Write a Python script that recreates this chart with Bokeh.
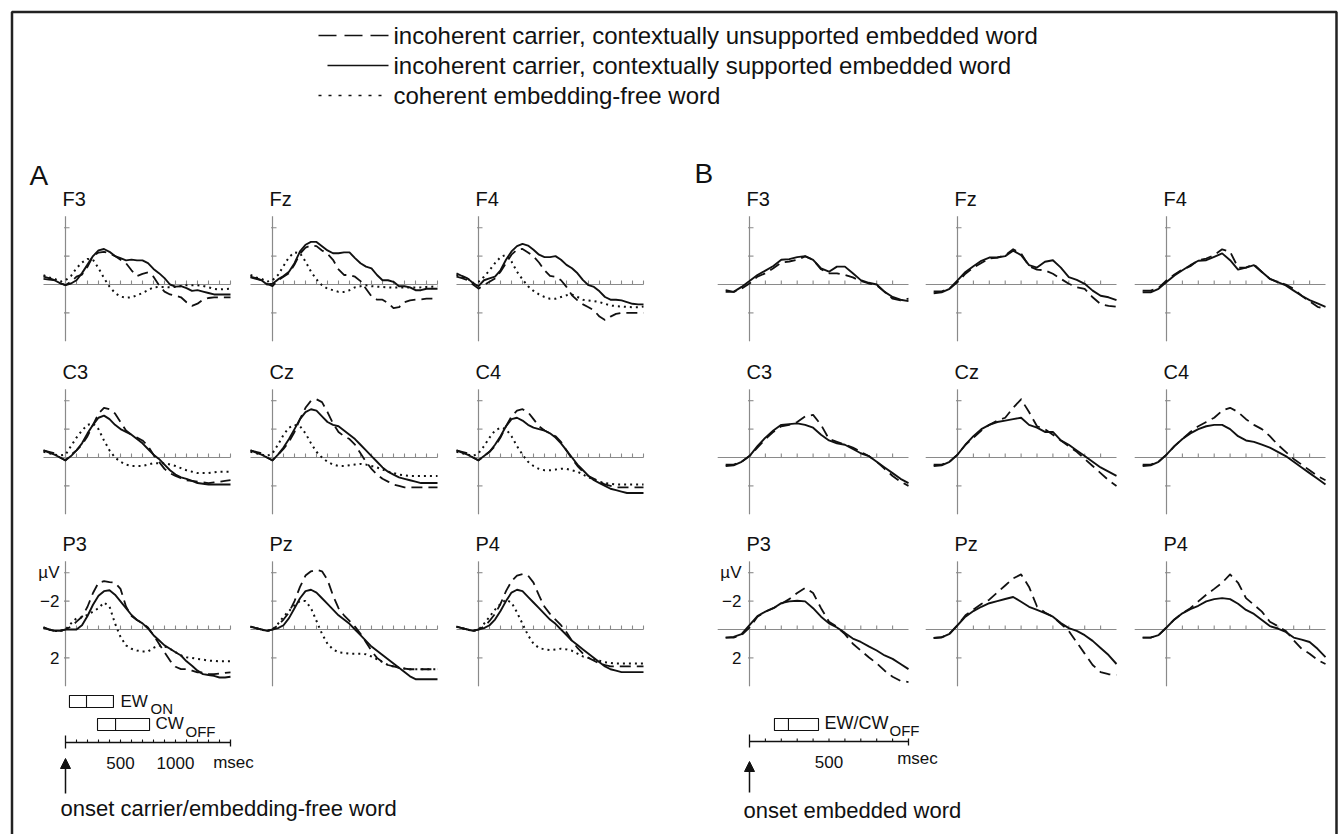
from bokeh.plotting import figure
from bokeh.models import Range1d, Arrow, NormalHead
from bokeh.core.properties import value
from bokeh.embed import file_html
from bokeh.resources import INLINE

# ---------------- data ----------------
electrodes = [["F3", "Fz", "F4"], ["C3", "Cz", "C4"], ["P3", "Pz", "P4"]]

time_A = [-200, -150, -100, -50, 0, 50, 100, 150, 200, 250, 300, 350, 400, 450, 500, 550, 600,
          650, 700, 750, 800, 850, 900, 950, 1000, 1050, 1100, 1150, 1200, 1250, 1300, 1350,
          1400, 1450, 1500]
time_B = [-150, -100, -50, 0, 50, 100, 150, 200, 250, 300, 350, 400, 450, 500, 550, 600, 650,
          700, 750, 800, 850, 900, 950, 1000]

# Panel A (µV, negative up)
A_F3_unsupported = [-0.4, -0.35, -0.3, -0.1, 0.05, -0.2, -0.55, -0.7, -1.25, -2.0, -2.25, -2.3, -2.2, -2.0, -1.75, -1.5, -1.0, -0.6, -0.75, -0.85, -0.55, 0.05, 0.5, 0.7, 0.8, 0.9, 1.25, 1.5, 1.35, 1.07, 0.95, 0.9, 0.9, 0.9, 0.9]
A_F3_supported = [-0.55, -0.45, -0.3, -0.1, 0.05, -0.07, -0.3, -0.8, -1.4, -2.0, -2.4, -2.5, -2.3, -2.0, -1.85, -1.7, -1.75, -1.7, -1.7, -1.5, -1.1, -0.8, -0.45, 0.0, 0.15, 0.12, 0.25, 0.45, 0.4, 0.5, 0.6, 0.7, 0.7, 0.7, 0.7]
A_F3_coherent = [-0.65, -0.5, -0.4, -0.2, -0.3, -0.6, -1.15, -1.55, -1.8, -1.75, -1.15, -0.45, 0.15, 0.6, 0.85, 0.93, 0.9, 0.76, 0.6, 0.4, 0.2, 0.17, 0.17, 0.2, 0.17, 0.1, 0.05, 0.05, 0.05, 0.1, 0.2, 0.3, 0.35, 0.32, 0.3]

A_Fz_unsupported = [-0.5, -0.4, -0.3, -0.05, 0.12, -0.3, -0.55, -0.8, -1.4, -2.17, -2.6, -2.75, -2.7, -2.4, -2.17, -1.74, -1.07, -0.67, -0.67, -0.55, -0.24, 0.3, 0.83, 1.07, 1.07, 1.3, 1.67, 1.6, 1.24, 1.12, 1.07, 1.05, 1.0, 1.0, 1.0]
A_Fz_supported = [-0.55, -0.45, -0.3, 0.0, -0.05, -0.36, -0.6, -0.9, -1.5, -2.33, -2.8, -3.0, -3.0, -2.7, -2.4, -2.2, -2.2, -2.26, -2.26, -1.86, -1.5, -1.26, -1.14, -0.67, -0.3, -0.3, -0.19, 0.12, 0.12, 0.2, 0.4, 0.4, 0.3, 0.3, 0.3]
A_Fz_coherent = [-0.67, -0.5, -0.4, -0.2, -0.3, -0.67, -1.3, -1.93, -2.26, -2.2, -1.62, -0.9, -0.36, 0.05, 0.3, 0.4, 0.52, 0.52, 0.4, 0.2, 0.12, 0.05, 0.12, 0.15, 0.17, 0.2, 0.22, 0.22, 0.22, 0.22, 0.22, 0.2, 0.17, 0.15, 0.12]

A_F4_unsupported = [-0.55, -0.45, -0.3, 0.0, 0.29, 0.05, -0.19, -0.43, -0.9, -1.5, -2.1, -2.45, -2.5, -2.26, -1.98, -1.55, -1.0, -0.6, -0.55, -0.3, 0.17, 0.76, 1.12, 1.4, 1.6, 1.83, 2.26, 2.5, 2.26, 2.07, 2.0, 2.0, 2.0, 2.0, 2.0]
A_F4_supported = [-0.79, -0.6, -0.43, -0.1, 0.12, -0.3, -0.43, -0.55, -1.0, -1.74, -2.33, -2.7, -2.86, -2.74, -2.45, -2.1, -1.93, -1.93, -2.0, -1.74, -1.38, -1.14, -0.79, -0.31, 0.05, 0.17, 0.48, 0.88, 1.07, 1.07, 1.12, 1.24, 1.36, 1.4, 1.4]
A_F4_coherent = [-0.67, -0.55, -0.43, -0.1, -0.19, -0.55, -1.0, -1.5, -1.93, -2.1, -1.62, -0.9, -0.36, 0.12, 0.45, 0.7, 0.88, 1.0, 1.0, 0.88, 0.76, 0.71, 0.88, 1.07, 1.12, 1.17, 1.24, 1.36, 1.48, 1.52, 1.55, 1.58, 1.6, 1.6, 1.55]

A_C3_unsupported = [-0.5, -0.4, -0.3, 0.0, 0.2, -0.2, -0.5, -0.9, -1.5, -2.3, -3.1, -3.5, -3.4, -3.1, -2.5, -1.9, -1.6, -1.4, -1.2, -0.8, -0.2, 0.3, 0.8, 1.1, 1.3, 1.45, 1.6, 1.65, 1.7, 1.75, 1.8, 1.75, 1.7, 1.65, 1.6]
A_C3_supported = [-0.5, -0.35, -0.2, 0.0, 0.2, -0.1, -0.5, -1.0, -1.7, -2.3, -2.8, -2.95, -2.7, -2.3, -2.0, -1.8, -1.6, -1.3, -1.0, -0.6, -0.2, 0.1, 0.5, 0.9, 1.2, 1.4, 1.5, 1.65, 1.8, 1.85, 1.9, 1.9, 1.9, 1.9, 1.9]
A_C3_coherent = [-0.4, -0.3, -0.2, -0.15, -0.2, -0.8, -1.4, -1.9, -2.3, -2.4, -2.0, -1.2, -0.5, 0.0, 0.3, 0.5, 0.6, 0.6, 0.6, 0.5, 0.4, 0.4, 0.4, 0.5, 0.6, 0.75, 0.9, 1.0, 1.1, 1.1, 1.1, 1.05, 1.0, 1.0, 1.0]

A_Cz_unsupported = [-0.5, -0.4, -0.3, 0.0, 0.2, -0.2, -0.6, -1.1, -1.8, -2.7, -3.5, -4.0, -4.1, -3.9, -3.2, -2.4, -1.8, -1.5, -1.3, -0.9, -0.3, 0.3, 0.8, 1.2, 1.5, 1.7, 1.9, 2.0, 2.1, 2.1, 2.1, 2.1, 2.1, 2.1, 2.1]
A_Cz_supported = [-0.5, -0.35, -0.2, 0.0, 0.2, -0.2, -0.7, -1.3, -2.0, -2.7, -3.2, -3.4, -3.3, -2.9, -2.5, -2.3, -2.2, -1.9, -1.6, -1.3, -0.9, -0.5, -0.1, 0.3, 0.7, 1.0, 1.2, 1.4, 1.5, 1.6, 1.7, 1.8, 1.8, 1.8, 1.8]
A_Cz_coherent = [-0.4, -0.3, -0.2, -0.1, -0.3, -0.9, -1.6, -2.1, -2.3, -2.2, -1.7, -1.0, -0.4, 0.0, 0.3, 0.5, 0.6, 0.6, 0.55, 0.5, 0.45, 0.5, 0.6, 0.7, 0.85, 1.0, 1.1, 1.2, 1.25, 1.3, 1.3, 1.3, 1.3, 1.3, 1.3]

A_C4_unsupported = [-0.5, -0.4, -0.3, 0.0, 0.2, -0.1, -0.4, -0.8, -1.4, -2.2, -2.9, -3.3, -3.4, -3.2, -2.7, -2.2, -1.9, -1.7, -1.5, -1.1, -0.5, 0.1, 0.6, 1.0, 1.3, 1.5, 1.7, 1.9, 2.0, 2.1, 2.1, 2.1, 2.1, 2.1, 2.1]
A_C4_supported = [-0.5, -0.35, -0.2, 0.0, 0.2, -0.1, -0.4, -0.9, -1.5, -2.2, -2.7, -2.8, -2.6, -2.3, -2.1, -2.0, -1.9, -1.7, -1.4, -1.0, -0.5, 0.0, 0.5, 0.9, 1.3, 1.6, 1.8, 2.0, 2.2, 2.3, 2.4, 2.5, 2.5, 2.5, 2.5]
A_C4_coherent = [-0.4, -0.3, -0.2, -0.1, -0.3, -0.8, -1.4, -1.9, -2.1, -2.0, -1.5, -0.8, -0.2, 0.3, 0.6, 0.8, 0.9, 0.9, 0.85, 0.8, 0.8, 0.9, 1.0, 1.2, 1.4, 1.55, 1.7, 1.8, 1.85, 1.9, 1.9, 1.9, 1.9, 1.9, 1.9]

A_P3_unsupported = [-0.14, 0.0, 0.1, 0.1, 0.0, -0.2, -0.55, -0.9, -1.6, -2.57, -3.3, -3.4, -3.33, -3.3, -2.86, -1.62, -0.95, -0.67, -0.43, -0.14, 0.4, 1.0, 1.6, 2.19, 2.62, 2.79, 2.79, 2.9, 3.02, 3.02, 3.14, 3.14, 3.1, 3.05, 3.02]
A_P3_supported = [-0.14, 0.0, 0.1, 0.1, 0.0, 0.0, 0.0, -0.3, -0.95, -1.74, -2.38, -2.7, -2.76, -2.45, -1.98, -1.5, -1.02, -0.67, -0.43, -0.07, 0.4, 0.76, 1.12, 1.36, 1.6, 1.83, 2.24, 2.55, 2.9, 3.14, 3.2, 3.26, 3.38, 3.38, 3.33]
A_P3_coherent = [-0.14, 0.0, 0.1, 0.1, 0.0, -0.43, -0.79, -0.86, -1.02, -1.26, -1.5, -1.9, -1.62, -0.43, 0.52, 1.12, 1.36, 1.48, 1.55, 1.55, 1.29, 1.12, 1.19, 1.36, 1.6, 1.83, 1.95, 2.0, 2.07, 2.12, 2.19, 2.2, 2.24, 2.24, 2.24]

A_Pz_unsupported = [-0.2, -0.1, 0.0, 0.1, 0.0, -0.3, -0.7, -1.2, -2.0, -3.0, -3.8, -4.1, -4.2, -4.1, -3.5, -2.4, -1.5, -1.0, -0.6, -0.2, 0.3, 0.9, 1.5, 2.0, 2.3, 2.5, 2.6, 2.7, 2.75, 2.8, 2.8, 2.8, 2.8, 2.8, 2.8]
A_Pz_supported = [-0.2, -0.1, 0.0, 0.1, 0.0, -0.1, -0.3, -0.8, -1.5, -2.2, -2.7, -2.8, -2.6, -2.2, -1.8, -1.4, -1.0, -0.7, -0.4, 0.0, 0.4, 0.8, 1.2, 1.5, 1.8, 2.1, 2.4, 2.7, 3.0, 3.3, 3.5, 3.5, 3.5, 3.5, 3.5]
A_Pz_coherent = [-0.2, -0.1, 0.0, 0.1, 0.0, -0.4, -0.9, -1.3, -1.7, -2.0, -2.0, -1.5, -0.6, 0.3, 1.0, 1.4, 1.6, 1.65, 1.7, 1.7, 1.7, 1.75, 1.9, 2.1, 2.3, 2.5, 2.6, 2.7, 2.75, 2.8, 2.8, 2.8, 2.8, 2.8, 2.8]

A_P4_unsupported = [-0.2, -0.1, 0.0, 0.1, 0.0, -0.2, -0.6, -1.1, -1.8, -2.7, -3.4, -3.8, -3.9, -3.8, -3.3, -2.4, -1.6, -1.1, -0.7, -0.3, 0.2, 0.8, 1.3, 1.7, 2.0, 2.2, 2.4, 2.5, 2.6, 2.6, 2.6, 2.6, 2.6, 2.6, 2.6]
A_P4_supported = [-0.2, -0.1, 0.0, 0.1, 0.0, -0.1, -0.3, -0.7, -1.3, -2.0, -2.6, -2.8, -2.7, -2.3, -1.9, -1.5, -1.1, -0.7, -0.4, 0.0, 0.4, 0.8, 1.1, 1.4, 1.7, 2.0, 2.3, 2.6, 2.8, 2.9, 3.0, 3.0, 3.0, 3.0, 3.0]
A_P4_coherent = [-0.2, -0.1, 0.0, 0.1, 0.0, -0.4, -0.9, -1.4, -1.8, -2.1, -1.9, -1.2, -0.4, 0.4, 1.0, 1.3, 1.4, 1.45, 1.4, 1.35, 1.4, 1.5, 1.7, 1.9, 2.0, 2.1, 2.2, 2.3, 2.35, 2.4, 2.4, 2.4, 2.4, 2.4, 2.4]

# Panel B
B_F3_unsupported = [0.4, 0.52, 0.29, -0.07, -0.55, -0.79, -1.14, -1.55, -1.62, -1.74, -1.98, -1.74, -1.07, -0.79, -0.79, -0.67, -0.5, -0.24, -0.07, 0.05, 0.52, 1.0, 1.12, 1.0]
B_F3_supported = [0.52, 0.52, 0.17, -0.24, -0.67, -0.98, -1.3, -1.74, -1.79, -1.93, -2.0, -1.74, -1.14, -0.9, -1.26, -1.26, -0.79, -0.31, -0.12, 0.0, 0.52, 0.88, 1.07, 1.17]
B_Fz_unsupported = [0.48, 0.48, 0.3, -0.17, -0.76, -1.19, -1.52, -1.83, -1.9, -2.07, -2.48, -2.19, -1.29, -1.05, -1.0, -0.76, -0.4, -0.05, 0.19, 0.31, 0.9, 1.38, 1.5, 1.57]
B_Fz_supported = [0.62, 0.55, 0.3, -0.29, -0.88, -1.29, -1.67, -1.9, -1.9, -2.0, -2.38, -2.07, -1.36, -1.19, -1.6, -1.71, -1.19, -0.52, -0.33, -0.05, 0.43, 0.79, 0.9, 1.1]
B_F4_unsupported = [0.43, 0.43, 0.24, -0.29, -0.71, -1.05, -1.29, -1.71, -1.83, -2.07, -2.48, -2.31, -1.19, -1.19, -1.43, -0.88, -0.4, -0.17, 0.0, 0.31, 0.79, 1.19, 1.57, 1.74]
B_F4_supported = [0.55, 0.55, 0.3, -0.17, -0.64, -1.0, -1.36, -1.67, -1.71, -1.95, -2.19, -1.71, -1.05, -1.19, -1.36, -0.88, -0.4, -0.17, 0.07, 0.43, 0.79, 1.1, 1.33, 1.57]

B_C3_unsupported = [0.5, 0.5, 0.3, -0.1, -0.7, -1.3, -1.8, -2.2, -2.3, -2.5, -2.9, -3.0, -2.3, -1.3, -1.1, -0.9, -0.7, -0.4, -0.1, 0.3, 0.8, 1.3, 1.7, 2.0]
B_C3_supported = [0.6, 0.55, 0.3, -0.1, -0.8, -1.4, -1.9, -2.3, -2.35, -2.4, -2.3, -2.1, -1.6, -1.2, -1.0, -0.9, -0.6, -0.3, -0.1, 0.3, 0.7, 1.1, 1.5, 1.8]
B_Cz_unsupported = [0.5, 0.5, 0.3, -0.2, -0.9, -1.4, -1.9, -2.3, -2.6, -2.8, -3.5, -4.1, -3.2, -2.2, -2.0, -1.6, -1.2, -0.8, -0.4, 0.1, 0.6, 1.1, 1.6, 2.0]
B_Cz_supported = [0.6, 0.55, 0.3, -0.2, -0.9, -1.5, -2.0, -2.3, -2.5, -2.6, -2.7, -2.8, -2.3, -2.1, -1.8, -1.8, -1.2, -0.9, -0.5, -0.1, 0.3, 0.7, 1.0, 1.3]
B_C4_unsupported = [0.5, 0.5, 0.3, -0.2, -0.8, -1.3, -1.8, -2.2, -2.5, -2.8, -3.3, -3.5, -3.2, -2.7, -2.3, -2.0, -1.5, -0.9, -0.4, 0.1, 0.5, 0.9, 1.3, 1.6]
B_C4_supported = [0.6, 0.55, 0.3, -0.2, -0.8, -1.3, -1.7, -2.0, -2.2, -2.3, -2.3, -2.0, -1.5, -1.2, -1.1, -0.9, -0.7, -0.4, -0.1, 0.3, 0.7, 1.1, 1.5, 1.9]

B_P3_unsupported = [0.57, 0.57, 0.4, -0.14, -0.9, -1.26, -1.5, -1.81, -2.14, -2.57, -2.93, -2.57, -1.5, -0.55, -0.19, 0.33, 1.0, 1.48, 1.95, 2.38, 2.9, 3.33, 3.62, 3.7]
B_P3_supported = [0.57, 0.52, 0.33, -0.31, -0.95, -1.26, -1.5, -1.86, -1.98, -2.02, -1.98, -1.5, -0.9, -0.43, -0.14, 0.24, 0.64, 0.88, 1.19, 1.48, 1.83, 2.07, 2.43, 2.79]
B_Pz_unsupported = [0.6, 0.55, 0.3, -0.3, -1.0, -1.4, -1.8, -2.1, -2.6, -3.1, -3.6, -3.88, -3.0, -1.62, -1.2, -0.9, -0.4, 0.1, 0.9, 1.7, 2.5, 3.0, 3.15, 3.19]
B_Pz_supported = [0.6, 0.55, 0.3, -0.3, -0.9, -1.3, -1.6, -1.85, -2.0, -2.15, -2.29, -1.95, -1.6, -1.38, -1.15, -0.9, -0.45, -0.1, 0.1, 0.4, 0.8, 1.3, 1.8, 2.43]
B_P4_unsupported = [0.57, 0.57, 0.4, -0.14, -0.71, -1.14, -1.5, -1.98, -2.45, -2.86, -3.29, -3.88, -3.29, -2.21, -1.74, -1.26, -0.55, -0.24, 0.1, 0.76, 1.36, 1.71, 2.14, 2.43]
B_P4_supported = [0.57, 0.57, 0.4, -0.14, -0.71, -1.14, -1.43, -1.67, -1.98, -2.14, -2.21, -2.14, -1.81, -1.38, -1.1, -0.67, -0.24, -0.07, 0.17, 0.57, 0.71, 0.88, 1.36, 1.95]

# time windows (ms) for the boxes below the plots: [start, mid, end]
EW_on_window_A = [36, 191, 436]
CW_off_window_A = [291, 455, 764]
EWCW_off_window_B = [157, 245, 434]

y_ticks = [-4, -2, 2]
y_tick_labels = ["µV", "\u22122", "2"]

legend_labels = ["incoherent carrier, contextually unsupported embedded word",
                 "incoherent carrier, contextually supported embedded word",
                 "coherent embedding-free word"]

A_curves = {
    ("F3", "unsupported"): A_F3_unsupported, ("F3", "supported"): A_F3_supported, ("F3", "coherent"): A_F3_coherent,
    ("Fz", "unsupported"): A_Fz_unsupported, ("Fz", "supported"): A_Fz_supported, ("Fz", "coherent"): A_Fz_coherent,
    ("F4", "unsupported"): A_F4_unsupported, ("F4", "supported"): A_F4_supported, ("F4", "coherent"): A_F4_coherent,
    ("C3", "unsupported"): A_C3_unsupported, ("C3", "supported"): A_C3_supported, ("C3", "coherent"): A_C3_coherent,
    ("Cz", "unsupported"): A_Cz_unsupported, ("Cz", "supported"): A_Cz_supported, ("Cz", "coherent"): A_Cz_coherent,
    ("C4", "unsupported"): A_C4_unsupported, ("C4", "supported"): A_C4_supported, ("C4", "coherent"): A_C4_coherent,
    ("P3", "unsupported"): A_P3_unsupported, ("P3", "supported"): A_P3_supported, ("P3", "coherent"): A_P3_coherent,
    ("Pz", "unsupported"): A_Pz_unsupported, ("Pz", "supported"): A_Pz_supported, ("Pz", "coherent"): A_Pz_coherent,
    ("P4", "unsupported"): A_P4_unsupported, ("P4", "supported"): A_P4_supported, ("P4", "coherent"): A_P4_coherent,
}
B_curves = {
    ("F3", "unsupported"): B_F3_unsupported, ("F3", "supported"): B_F3_supported,
    ("Fz", "unsupported"): B_Fz_unsupported, ("Fz", "supported"): B_Fz_supported,
    ("F4", "unsupported"): B_F4_unsupported, ("F4", "supported"): B_F4_supported,
    ("C3", "unsupported"): B_C3_unsupported, ("C3", "supported"): B_C3_supported,
    ("Cz", "unsupported"): B_Cz_unsupported, ("Cz", "supported"): B_Cz_supported,
    ("C4", "unsupported"): B_C4_unsupported, ("C4", "supported"): B_C4_supported,
    ("P3", "unsupported"): B_P3_unsupported, ("P3", "supported"): B_P3_supported,
    ("Pz", "unsupported"): B_Pz_unsupported, ("Pz", "supported"): B_Pz_supported,
    ("P4", "unsupported"): B_P4_unsupported, ("P4", "supported"): B_P4_supported,
}

# ---------------- layout / style ----------------
W, H = 1338, 834
PX, PY = 0, 0
FONT = value("Liberation Sans")
INK = "#111111"
AXC = "#8a8a8a"

SX = {"A": 0.11, "B": 0.159}          # px per ms
SY = 14.2                              # px per µV
COLS = {"A": [65, 272, 478], "B": [749, 957, 1166]}
ROWS = [284, 457, 629]
XEND = {"A": 1500, "B": 1000}
XTICKS = {"A": list(range(100, 1501, 100)), "B": list(range(100, 901, 100))}

STYLE = {
    "unsupported": dict(line_dash="11 6", line_width=1.8),
    "supported": dict(line_dash="solid", line_width=1.9),
    "coherent": dict(line_dash="2 4", line_width=2.0),
}

p = figure(width=W, height=H, x_range=Range1d(PX, PX + W), y_range=Range1d(PY + H, PY),
           x_axis_type=None, y_axis_type=None, toolbar_location=None, output_backend="svg",
           min_border=0, outline_line_color=None, background_fill_color="white")

xr = {}
for panel in "AB":
    for c, X0 in enumerate(COLS[panel]):
        xr[f"{panel}{c}"] = Range1d((PX - X0) / SX[panel], (PX + W - X0) / SX[panel])
yr = {}
for r, Y0 in enumerate(ROWS):
    yr[f"r{r}"] = Range1d((PY + H - Y0) / SY, (PY - Y0) / SY)
p.extra_x_ranges = xr
p.extra_y_ranges = yr

# outer frame
p.line(x=[11.5, 11.5, 1336, 1336], y=[PY + H, 11.5, 11.5, PY + H], line_color="#222222", line_width=2.5)


def txt(x, y, s, size, align="left", **kw):
    p.text(x=[x], y=[y], text=[s], text_font=FONT, text_font_size=f"{size}px",
           text_baseline="middle", text_align=align, text_color=INK, **kw)


# legend
leg_y = [35, 65, 95]
p.line(x=[318, 388], y=[leg_y[0]] * 2, line_color=INK, line_width=1.6, line_dash="18 8")
p.line(x=[327, 388], y=[leg_y[1]] * 2, line_color=INK, line_width=1.6)
p.line(x=[318, 385], y=[leg_y[2]] * 2, line_color=INK, line_width=1.6, line_dash="3 7")
for yy, lab in zip(leg_y, legend_labels):
    txt(393, yy, lab, 24)

txt(29, 175, "A", 28)
txt(694, 173, "B", 28)

# subplots
for panel, curves, conds in (("A", A_curves, ["coherent", "unsupported", "supported"]),
                             ("B", B_curves, ["unsupported", "supported"])):
    times = time_A if panel == "A" else time_B
    sx = SX[panel]
    for r, Y0 in enumerate(ROWS):
        for c, X0 in enumerate(COLS[panel]):
            name = electrodes[r][c]
            xn, yn = f"{panel}{c}", f"r{r}"
            # axes
            p.segment(x0=[-200], y0=[0], x1=[XEND[panel]], y1=[0], x_range_name=xn, y_range_name=yn,
                      line_color=AXC, line_width=1.2)
            p.segment(x0=[0], y0=[-4.8], x1=[0], y1=[4.0], x_range_name=xn, y_range_name=yn,
                      line_color=AXC, line_width=1.2)
            xt = XTICKS[panel]
            p.segment(x0=xt, y0=[0] * len(xt), x1=xt, y1=[-4 / SY] * len(xt), x_range_name=xn,
                      y_range_name=yn, line_color=AXC, line_width=1.1)
            p.segment(x0=[-1.5 / sx] * 3, y0=y_ticks, x1=[4 / sx] * 3, y1=y_ticks, x_range_name=xn,
                      y_range_name=yn, line_color=AXC, line_width=1.1)
            # curves
            for cond in conds:
                p.line(x=times, y=curves[(name, cond)], x_range_name=xn, y_range_name=yn,
                       line_color=INK, line_join="round", **STYLE[cond])
            txt(X0 - 3, Y0 - 86, name, 20)
            if r == 2 and c == 0:
                off = 6 if panel == "A" else 8
                p.text(x=[X0 - off] * 3, y=y_ticks, text=y_tick_labels, y_range_name=yn,
                       text_font=FONT, text_font_size="17px", text_baseline="middle",
                       text_align="right", text_color=INK)

# time scale bars
for panel, ybar, labels in (("A", 742, [500, 1000]), ("B", 741, [500])):
    xn = f"{panel}0"
    end = XEND[panel]
    p.segment(x0=[0], y0=[ybar], x1=[end], y1=[ybar], x_range_name=xn, line_color=INK, line_width=1.3)
    st = list(range(100, end, 100))
    p.segment(x0=st, y0=[ybar] * len(st), x1=st, y1=[ybar - 3] * len(st), x_range_name=xn,
              line_color=INK, line_width=1.1)
    p.segment(x0=[0, end], y0=[ybar - 7, ybar - 3], x1=[0, end], y1=[ybar + 6, ybar + 4],
              x_range_name=xn, line_color=INK, line_width=1.3)
    p.text(x=labels, y=[ybar + 20] * len(labels), text=[str(v) for v in labels], x_range_name=xn,
           text_font=FONT, text_font_size="17px", text_baseline="middle", text_align="center",
           text_color=INK)
    p.add_layout(Arrow(end=NormalHead(size=10, fill_color=INK, line_color=INK, line_width=1),
                       x_start=0, y_start=ybar + 51, x_end=0, y_end=ybar + 16 + (4 if panel == "B" else 0),
                       x_range_name=xn, line_color=INK, line_width=1.5))

txt(233, 762, "msec", 17, align="center")
txt(917, 758, "msec", 17, align="center")


def window_box(win, ytop, ybot, xn):
    p.quad(left=[win[0]], right=[win[2]], top=[ytop], bottom=[ybot], x_range_name=xn,
           fill_color=None, line_color=INK, line_width=1.1)
    p.segment(x0=[win[1]], y0=[ytop], x1=[win[1]], y1=[ybot], x_range_name=xn,
              line_color=INK, line_width=1.1)


window_box(EW_on_window_A, 695, 707, "A0")
window_box(CW_off_window_A, 718, 730, "A0")
window_box(EWCW_off_window_B, 718, 730, "B0")

txt(120, 701, "EW", 17)
txt(150, 708, "ON", 15)
txt(155, 723, "CW", 17)
txt(185, 731, "OFF", 15)
txt(824, 722, "EW/CW", 18)
txt(889, 730, "OFF", 15)

txt(60, 808, "onset carrier/embedding-free word", 22)
txt(743, 810, "onset embedded word", 22)

open("out.html", "w").write(file_html(p, INLINE))
